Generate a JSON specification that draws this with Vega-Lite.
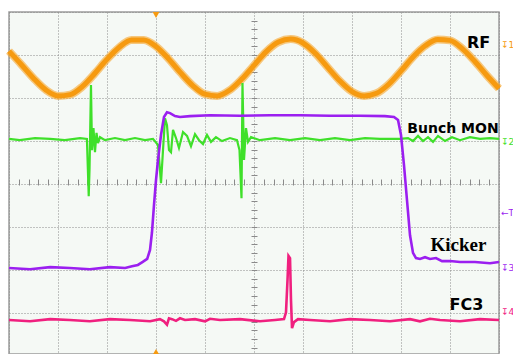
{
  "$schema": "https://vega.github.io/schema/vega-lite/v6.json",
  "width": 490,
  "height": 342,
  "autosize": "none",
  "padding": {"left": 9, "top": 12, "right": 14, "bottom": 0},
  "background": "white",
  "config": {"view": {"fill": "#f5f9f5", "stroke": "#9c9c9c", "strokeWidth": 1.5}},
  "datasets": {
    "rf": [
      {"t":0,"v":3.09},{"t":0.25,"v":2.78},{"t":0.5,"v":2.46},{"t":0.75,"v":2.19},{"t":1,"v":2.05},{"t":1.25,"v":2.08},{"t":1.5,"v":2.27},{"t":1.75,"v":2.57},{"t":2,"v":2.9},{"t":2.25,"v":3.18},{"t":2.5,"v":3.35},{"t":2.75,"v":3.35},{"t":3,"v":3.2},{"t":3.25,"v":2.92},{"t":3.5,"v":2.59},{"t":3.75,"v":2.29},{"t":4,"v":2.09},{"t":4.25,"v":2.05},{"t":4.5,"v":2.18},{"t":4.75,"v":2.44},{"t":5,"v":2.76},{"t":5.25,"v":3.08},{"t":5.5,"v":3.3},{"t":5.75,"v":3.37},{"t":6,"v":3.28},{"t":6.25,"v":3.04},{"t":6.5,"v":2.72},{"t":6.75,"v":2.4},{"t":7,"v":2.15},{"t":7.25,"v":2.05},{"t":7.5,"v":2.11},{"t":7.75,"v":2.32},{"t":8,"v":2.63},{"t":8.25,"v":2.96},{"t":8.5,"v":3.22},{"t":8.75,"v":3.36},{"t":9,"v":3.34},{"t":9.25,"v":3.15},{"t":9.5,"v":2.86},{"t":9.75,"v":2.53},{"t":10,"v":2.22}
    ],
    "bunch": [
      {"t":0,"v":1.05},{"t":0.22,"v":1.02},{"t":0.53,"v":1.07},{"t":0.84,"v":1.05},{"t":1.14,"v":1.02},{"t":1.45,"v":1.07},{"t":1.59,"v":1.05},{"t":1.627,"v":-0.28},{"t":1.643,"v":0.33},{"t":1.673,"v":2.3},{"t":1.694,"v":0.79},{"t":1.724,"v":1.3},{"t":1.755,"v":0.74},{"t":1.786,"v":1.19},{"t":1.816,"v":0.95},{"t":1.857,"v":1.09},{"t":1.959,"v":1.02},{"t":2.163,"v":1.07},{"t":2.367,"v":1.02},{"t":2.571,"v":1.07},{"t":2.776,"v":1.02},{"t":2.939,"v":1.05},{"t":3.041,"v":0.91},{"t":3.102,"v":0.02},{"t":3.143,"v":0.79},{"t":3.184,"v":1.53},{"t":3.224,"v":1.37},{"t":3.265,"v":0.79},{"t":3.306,"v":0.74},{"t":3.347,"v":1.26},{"t":3.408,"v":1.07},{"t":3.469,"v":0.84},{"t":3.551,"v":1.21},{"t":3.633,"v":1.12},{"t":3.714,"v":0.88},{"t":3.796,"v":1.16},{"t":3.878,"v":1.02},{"t":3.959,"v":0.93},{"t":4.041,"v":1.14},{"t":4.122,"v":0.98},{"t":4.224,"v":1.09},{"t":4.347,"v":1.0},{"t":4.51,"v":1.07},{"t":4.653,"v":1.02},{"t":4.704,"v":0.79},{"t":4.745,"v":-0.33},{"t":4.765,"v":2.35},{"t":4.796,"v":0.56},{"t":4.837,"v":1.3},{"t":4.878,"v":0.98},{"t":4.939,"v":1.09},{"t":5.122,"v":1.02},{"t":5.429,"v":1.07},{"t":5.735,"v":1.02},{"t":6.041,"v":1.07},{"t":6.347,"v":1.02},{"t":6.653,"v":1.07},{"t":6.959,"v":1.02},{"t":7.265,"v":1.07},{"t":7.571,"v":1.05},{"t":7.98,"v":1.05},{"t":8.143,"v":1.07},{"t":8.245,"v":1.0},{"t":8.347,"v":1.12},{"t":8.449,"v":1.0},{"t":8.551,"v":1.09},{"t":8.653,"v":0.98},{"t":8.755,"v":1.12},{"t":8.898,"v":1.0},{"t":9.041,"v":1.09},{"t":9.204,"v":1.02},{"t":9.408,"v":1.09},{"t":9.612,"v":1.05},{"t":9.816,"v":1.07},{"t":10,"v":1.05}
    ],
    "kicker": [
      {"t":0,"v":-1.95},{"t":0.43,"v":-1.98},{"t":0.84,"v":-1.93},{"t":1.24,"v":-1.95},{"t":1.65,"v":-1.98},{"t":2.06,"v":-1.93},{"t":2.37,"v":-1.95},{"t":2.51,"v":-1.91},{"t":2.63,"v":-1.88},{"t":2.73,"v":-1.81},{"t":2.82,"v":-1.74},{"t":2.878,"v":-1.53},{"t":2.918,"v":-1.12},{"t":2.959,"v":-0.49},{"t":3.0,"v":0.09},{"t":3.041,"v":0.56},{"t":3.102,"v":1.14},{"t":3.163,"v":1.56},{"t":3.224,"v":1.67},{"t":3.286,"v":1.65},{"t":3.388,"v":1.58},{"t":3.49,"v":1.56},{"t":3.694,"v":1.58},{"t":4.102,"v":1.6},{"t":4.714,"v":1.59},{"t":5.327,"v":1.6},{"t":5.939,"v":1.6},{"t":6.551,"v":1.59},{"t":7.163,"v":1.59},{"t":7.673,"v":1.58},{"t":7.857,"v":1.56},{"t":7.939,"v":1.49},{"t":8.0,"v":1.14},{"t":8.061,"v":0.44},{"t":8.122,"v":-0.37},{"t":8.184,"v":-1.19},{"t":8.245,"v":-1.6},{"t":8.306,"v":-1.72},{"t":8.388,"v":-1.74},{"t":8.49,"v":-1.7},{"t":8.592,"v":-1.74},{"t":8.714,"v":-1.72},{"t":8.837,"v":-1.79},{"t":9.0,"v":-1.79},{"t":9.204,"v":-1.81},{"t":9.51,"v":-1.81},{"t":9.816,"v":-1.84},{"t":10,"v":-1.81}
    ],
    "fc3": [
      {"t":0,"v":-3.16},{"t":0.43,"v":-3.19},{"t":0.84,"v":-3.14},{"t":1.24,"v":-3.16},{"t":1.65,"v":-3.19},{"t":2.06,"v":-3.14},{"t":2.47,"v":-3.16},{"t":2.88,"v":-3.19},{"t":3.08,"v":-3.14},{"t":3.163,"v":-3.19},{"t":3.224,"v":-3.27},{"t":3.265,"v":-3.12},{"t":3.327,"v":-3.14},{"t":3.408,"v":-3.18},{"t":3.49,"v":-3.12},{"t":3.592,"v":-3.16},{"t":3.796,"v":-3.14},{"t":4.0,"v":-3.19},{"t":4.102,"v":-3.13},{"t":4.306,"v":-3.16},{"t":4.714,"v":-3.14},{"t":5.122,"v":-3.19},{"t":5.429,"v":-3.16},{"t":5.612,"v":-3.14},{"t":5.653,"v":-2.98},{"t":5.684,"v":-2.23},{"t":5.704,"v":-1.67},{"t":5.735,"v":-1.72},{"t":5.755,"v":-2.7},{"t":5.776,"v":-3.35},{"t":5.816,"v":-3.21},{"t":5.898,"v":-3.14},{"t":6.143,"v":-3.16},{"t":6.551,"v":-3.19},{"t":6.959,"v":-3.14},{"t":7.367,"v":-3.16},{"t":7.776,"v":-3.19},{"t":8.184,"v":-3.14},{"t":8.388,"v":-3.19},{"t":8.592,"v":-3.13},{"t":8.796,"v":-3.16},{"t":9.204,"v":-3.19},{"t":9.612,"v":-3.14},{"t":10,"v":-3.16}
    ],
    "labels_sans": [
      {"t":9.582,"v":3.163,"label":"RF","size":16},
      {"t":9.061,"v":1.186,"label":"Bunch MON","size":14},
      {"t":9.337,"v":-2.93,"label":"FC3","size":16}
    ],
    "labels_serif": [
      {"t":9.173,"v":-1.551,"label":"Kicker"}
    ],
    "markers": [
      {"t":10.04,"v":3.23,"label":"↧1","ch":"1"},
      {"t":10.04,"v":0.98,"label":"↧2","ch":"2"},
      {"t":10.04,"v":-0.67,"label":"←T","ch":"3"},
      {"t":10.04,"v":-1.95,"label":"↧3","ch":"3"},
      {"t":10.04,"v":-2.98,"label":"↧4","ch":"4"}
    ],
    "trig": [
      {"t":3.0,"v":3.93,"shape":"down"},
      {"t":3.0,"v":-3.9,"shape":"up"}
    ]
  },
  "layer": [
    {
      "data": {"name": "rf"},
      "mark": {"type": "line", "color": "#f7a52c", "strokeWidth": 8, "opacity": 0.6, "interpolate": "monotone"},
      "encoding": {
        "x": {"field": "t", "type": "quantitative", "scale": {"domain": [0, 10], "nice": false, "zero": false},
          "axis": {"values": [0,1,2,3,4,5,6,7,8,9,10], "grid": true, "gridDash": [1, 2], "gridColor": "#8a8a8a", "gridWidth": 1, "ticks": false, "labels": false, "domain": false, "title": null}},
        "y": {"field": "v", "type": "quantitative", "scale": {"domain": [-3.95, 4], "nice": false, "zero": false},
          "axis": {"values": [-3,-2,-1,0,1,2,3,4], "grid": true, "gridDash": [1, 2], "gridColor": "#8a8a8a", "gridWidth": 1, "ticks": false, "labels": false, "domain": false, "title": null}}
      }
    },
    {
      "data": {"name": "rf"},
      "mark": {"type": "line", "color": "#f69a10", "strokeWidth": 5, "interpolate": "monotone"},
      "encoding": {
        "x": {"field": "t", "type": "quantitative",
          "axis": {"values": [0.2,0.4,0.6,0.8,1.2,1.4,1.6,1.8,2.2,2.4,2.6,2.8,3.2,3.4,3.6,3.8,4.2,4.4,4.6,4.8,5.2,5.4,5.6,5.8,6.2,6.4,6.6,6.8,7.2,7.4,7.6,7.8,8.2,8.4,8.6,8.8,9.2,9.4,9.6,9.8,1,2,3,4,5,6,7,8,9], "offset": -173, "grid": false, "ticks": true, "tickSize": 6, "tickColor": "#8a8a8a", "tickWidth": 1, "labels": false, "domain": false, "title": null}},
        "y": {"field": "v", "type": "quantitative",
          "axis": {"values": [-3.8,-3.6,-3.4,-3.2,-2.8,-2.6,-2.4,-2.2,-1.8,-1.6,-1.4,-1.2,-0.8,-0.6,-0.4,-0.2,0.2,0.4,0.6,0.8,1.2,1.4,1.6,1.8,2.2,2.4,2.6,2.8,3.2,3.4,3.6,3.8,-3,-2,-1,1,2,3], "offset": -248, "grid": false, "ticks": true, "tickSize": 6, "tickColor": "#8a8a8a", "tickWidth": 1, "labels": false, "domain": false, "title": null}}
      }
    },
    {
      "data": {"name": "bunch"},
      "mark": {"type": "line", "color": "#3fe02a", "strokeWidth": 2.2},
      "encoding": {
        "x": {"field": "t", "type": "quantitative", "axis": null},
        "y": {"field": "v", "type": "quantitative", "axis": null}
      }
    },
    {
      "data": {"name": "kicker"},
      "mark": {"type": "line", "color": "#9b1ff0", "strokeWidth": 2.6},
      "encoding": {
        "x": {"field": "t", "type": "quantitative", "axis": null},
        "y": {"field": "v", "type": "quantitative", "axis": null}
      }
    },
    {
      "data": {"name": "fc3"},
      "mark": {"type": "line", "color": "#f0207f", "strokeWidth": 2.6},
      "encoding": {
        "x": {"field": "t", "type": "quantitative", "axis": null},
        "y": {"field": "v", "type": "quantitative", "axis": null}
      }
    },
    {
      "data": {"name": "trig"},
      "mark": {"type": "point", "filled": true, "color": "#f69a10", "size": 45, "opacity": 1},
      "encoding": {
        "x": {"field": "t", "type": "quantitative", "axis": null},
        "y": {"field": "v", "type": "quantitative", "axis": null},
        "shape": {"field": "shape", "type": "nominal", "scale": {"domain": ["down", "up"], "range": ["triangle-down", "triangle-up"]}, "legend": null}
      }
    },
    {
      "data": {"name": "labels_sans"},
      "mark": {"type": "text", "font": "DejaVu Sans", "fontWeight": "bold", "color": "black", "align": "center", "baseline": "alphabetic"},
      "encoding": {
        "x": {"field": "t", "type": "quantitative", "axis": null},
        "y": {"field": "v", "type": "quantitative", "axis": null},
        "text": {"field": "label"},
        "size": {"field": "size", "type": "quantitative", "scale": null}
      }
    },
    {
      "data": {"name": "labels_serif"},
      "mark": {"type": "text", "font": "Liberation Serif", "fontWeight": "bold", "fontSize": 19, "color": "black", "align": "center", "baseline": "alphabetic"},
      "encoding": {
        "x": {"field": "t", "type": "quantitative", "axis": null},
        "y": {"field": "v", "type": "quantitative", "axis": null},
        "text": {"field": "label"}
      }
    },
    {
      "data": {"name": "markers"},
      "mark": {"type": "text", "font": "DejaVu Sans", "fontSize": 9, "align": "left", "baseline": "middle"},
      "encoding": {
        "x": {"field": "t", "type": "quantitative", "axis": null},
        "y": {"field": "v", "type": "quantitative", "axis": null},
        "text": {"field": "label"},
        "color": {"field": "ch", "type": "nominal", "scale": {"domain": ["1", "2", "3", "4"], "range": ["#f69a10", "#3fe02a", "#9b1ff0", "#f0207f"]}, "legend": null}
      }
    }
  ],
  "resolve": {"axis": {"x": "independent", "y": "independent"}}
}
